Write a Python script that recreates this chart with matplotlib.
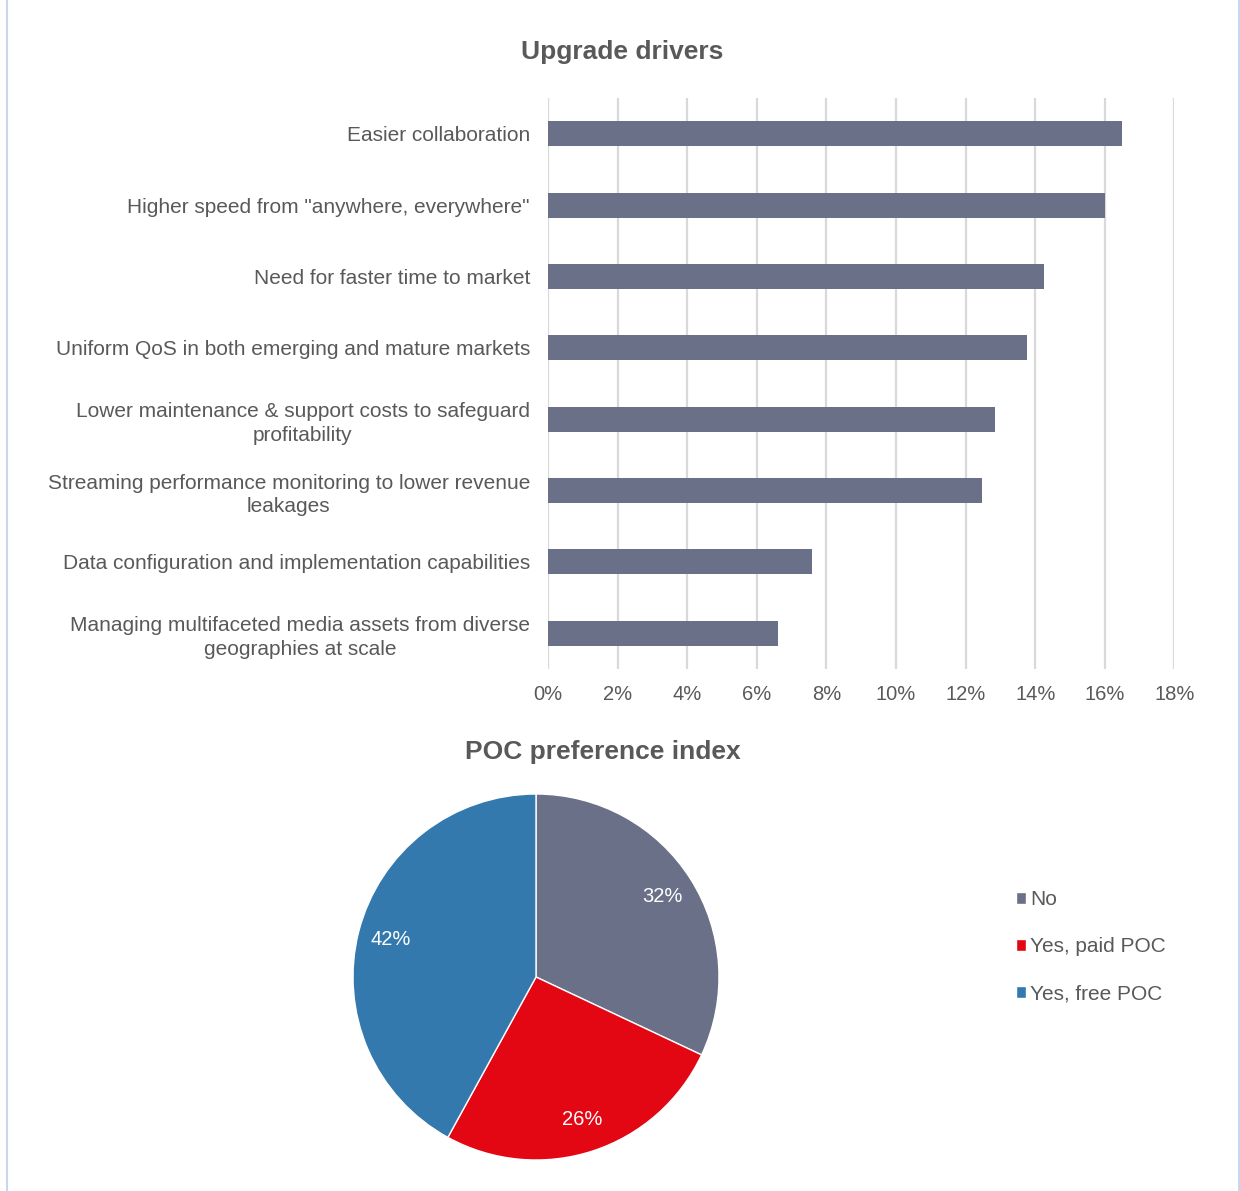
import matplotlib
matplotlib.use("Agg")
import matplotlib.pyplot as plt
from matplotlib.lines import Line2D
from matplotlib.ticker import FuncFormatter, MultipleLocator

plt.rcParams['font.family'] = ['Liberation Sans', 'DejaVu Sans']

# Upgrade drivers (share of respondents)
drivers = [
    "Easier collaboration",
    "Higher speed from \"anywhere, everywhere\"",
    "Need for faster time to market",
    "Uniform QoS in both emerging and mature markets",
    "Lower maintenance & support costs to safeguard\nprofitability",
    "Streaming performance monitoring to lower revenue\nleakages",
    "Data configuration and implementation capabilities",
    "Managing multifaceted media assets from diverse\ngeographies at scale",
]
driver_share = [0.165, 0.160, 0.1425, 0.1375, 0.1285, 0.1248, 0.076, 0.066]

# POC preference index
poc_labels = ["No", "Yes, paid POC", "Yes, free POC"]
poc_share = [32, 26, 42]

GRAY = "#697087"
RED = "#E30613"
BLUE = "#3479AE"
TEXT = "#595959"
GRID = "#D9D9D9"

W, H = 1240, 1191
fig = plt.figure(figsize=(W / 100, H / 100), dpi=100)
fig.patch.set_facecolor("white")

# thin frame lines on the sides
for x in (6.5 / W, 1238.5 / W):
    fig.add_artist(Line2D([x, x], [0, 1], transform=fig.transFigure,
                          color="#C9D7EE", lw=1.5))

# ---- bar chart ----
ax = fig.add_axes([548 / W, 1 - 669 / H, (1174.4 - 548) / W, (669 - 98) / H])
ypos = list(range(len(drivers)))
ax.barh(ypos, driver_share, height=0.35, color=GRAY, zorder=3)
ax.set_ylim(len(drivers) - 0.5, -0.5)
ax.set_xlim(0, 0.18)
ax.xaxis.set_major_locator(MultipleLocator(0.02))
ax.xaxis.set_major_formatter(FuncFormatter(lambda v, p: f"{v * 100:.0f}%"))
ax.grid(axis="x", color=GRID, lw=1.6, zorder=0)
ax.set_axisbelow(True)
for s in ax.spines.values():
    s.set_visible(False)
ax.set_yticks(ypos)
ax.set_yticklabels(drivers, fontsize=15, color=TEXT, multialignment="center",
                   linespacing=1.32)
ax.tick_params(axis="y", length=0, pad=13)
ax.tick_params(axis="x", length=0, pad=11.5, labelsize=14.5, labelcolor=TEXT)
fig.text(622 / W, 1 - 52 / H, "Upgrade drivers", ha="center", va="center",
         fontsize=19, fontweight="bold", color=TEXT)

# ---- pie chart ----
R = 183
pax = fig.add_axes([(536 - R) / W, 1 - (977 + R) / H, 2 * R / W, 2 * R / H])
wedges, _, autotexts = pax.pie(
    poc_share, colors=[GRAY, RED, BLUE], startangle=90, counterclock=False,
    autopct=lambda p: f"{p:.0f}%", pctdistance=0.82, radius=1,
    wedgeprops=dict(edgecolor="white", linewidth=1),
    textprops=dict(color="white", fontsize=14.5))
pax.set_xlim(-1, 1)
pax.set_ylim(-1, 1)
pax.set_aspect("equal")
pax.axis("off")
fig.text(603 / W, 1 - 752 / H, "POC preference index", ha="center", va="center",
         fontsize=19, fontweight="bold", color=TEXT)

leg = fig.legend(wedges, poc_labels, loc="upper left",
                 bbox_to_anchor=(1016 / W, 1 - 890 / H), frameon=False,
                 fontsize=15, handlelength=0.5, handleheight=0.5,
                 handletextpad=0.18, labelspacing=1.36, borderpad=0,
                 borderaxespad=0)
for t in leg.get_texts():
    t.set_color(TEXT)

fig.savefig("out.png", dpi=100, facecolor="white")
